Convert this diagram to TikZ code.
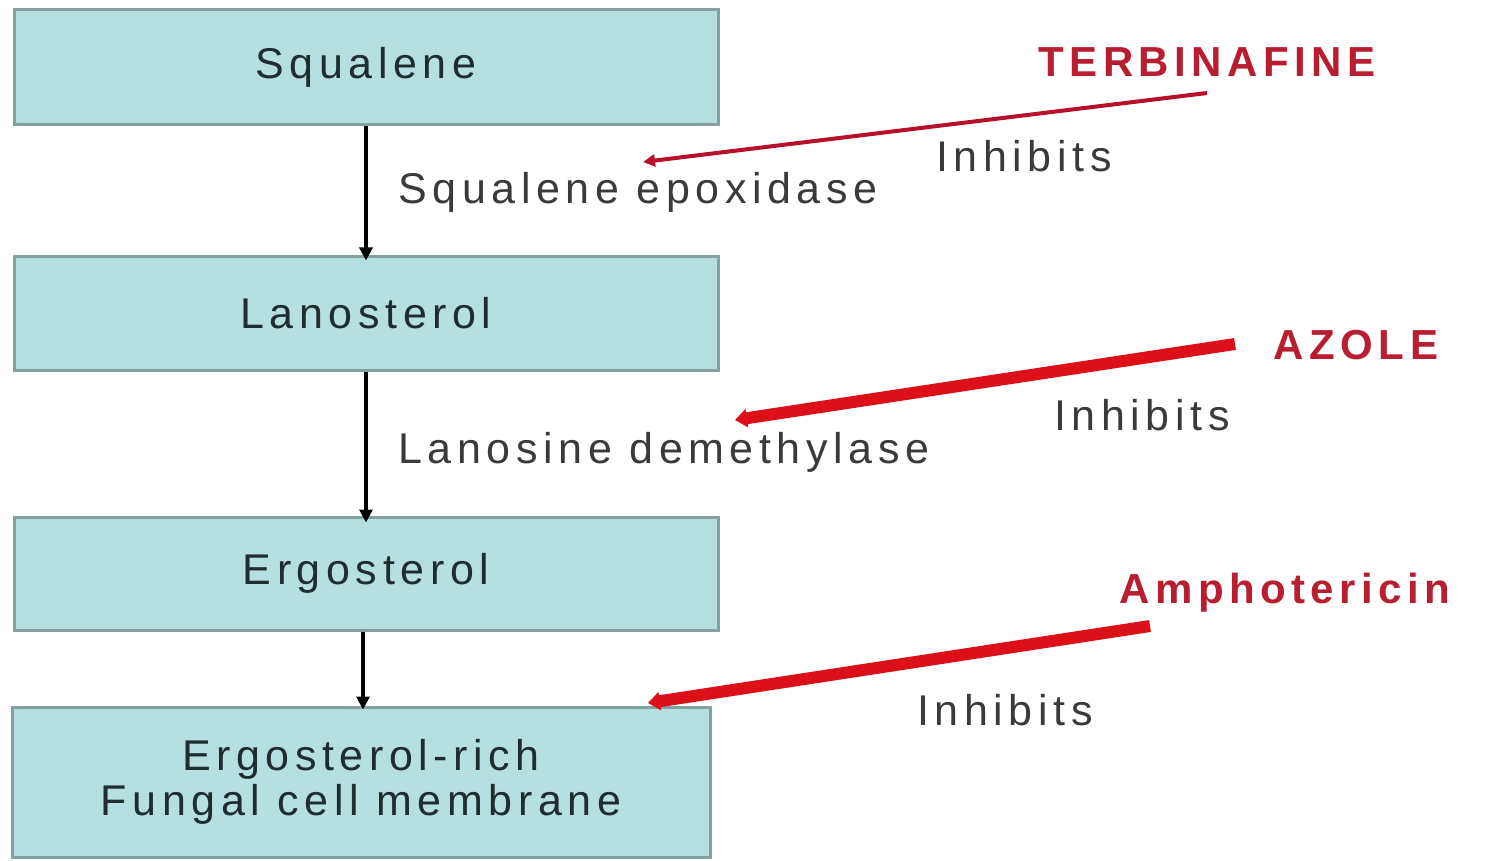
\documentclass[tikz,border=0pt]{standalone}
\usepackage{fontspec}
\setmainfont{Liberation Sans}[LetterSpace=13]
\usetikzlibrary{arrows.meta}
\definecolor{boxfill}{HTML}{B6DFE0}
\definecolor{boxline}{HTML}{85A0A0}
\definecolor{boxtext}{HTML}{1E2E2E}
\definecolor{labtext}{HTML}{3A3A3A}
\definecolor{drugred}{HTML}{B81E30}
\definecolor{arrred}{HTML}{DC1018}
\definecolor{thinred}{HTML}{B8102A}
\begin{document}
\begin{tikzpicture}[x=0.5pt,y=-0.5pt,
  box/.style={draw=boxline, line width=1.5pt, fill=boxfill, inner sep=0pt,
    text=boxtext, font=\fontsize{21.5}{22.5}\selectfont},
  lab/.style={text=labtext, font=\fontsize{21.5}{25}\selectfont, inner sep=0pt},
  drug/.style={text=drugred, font=\fontsize{21}{25}\selectfont\bfseries, inner sep=0pt},
  flow/.style={line width=2pt, black, -{Triangle[length=6.5pt,width=6.5pt]}},
  inhthin/.style={line width=2pt, thinred, -{Triangle[length=6pt,width=6pt]}},
  inhthick/.style={line width=6pt, arrred, -{Triangle[length=6pt,width=9pt]}}]
\useasboundingbox (0,0) rectangle (1499,861);
\fill[white] (0,0) rectangle (1499,861);

\node[box, minimum width=352pt, minimum height=57.5pt] (sq) at (366,67.5) {Squalene};
\node[box, minimum width=352pt, minimum height=56.5pt] (la) at (366,313.5) {Lanosterol};
\node[box, minimum width=352pt, minimum height=56.5pt] (er) at (366,573.5) {Ergosterol};
\node[box, minimum width=349pt, minimum height=75pt, align=center] (me) at (361,782) {Ergosterol-rich\\Fungal cell membrane};

\coordinate (f3) at ([xshift=-1.5pt]er.south);
\draw[flow] (sq.south) -- ([yshift=-2.5pt]la.north);
\draw[flow] (la.south) -- ([yshift=-3.5pt]er.north);
\draw[flow] (f3) -- ([yshift=-2pt]f3 |- me.north);

\node[lab, anchor=west] (se) at (398,192) {Squalene epoxidase};
\node[lab, anchor=west] (ld) at (398,452) {Lanosine demethylase};

\node[drug] (terb) at (1207,62) {TERBINAFINE};
\node[drug] (azole) at (1356,345) {AZOLE};
\node[drug] (ampho) at (1285,593) {Amphotericin};

\node[lab] (i1) at (1024,156) {Inhibits};
\node[lab] (i2) at (1142,415) {Inhibits};
\node[lab] (i3) at (1005,710) {Inhibits};

\coordinate (t1) at (1207,93);
\coordinate (t2) at (643,162);
\coordinate (a1) at (1235,344);
\coordinate (a2) at (735,420);
\coordinate (m1) at (1150,626);
\coordinate (m2) at (648,703);
\draw[inhthin] (t1) -- (t2);
\draw[inhthick] (a1) -- (a2);
\draw[inhthick] (m1) -- (m2);
\end{tikzpicture}
\end{document}
